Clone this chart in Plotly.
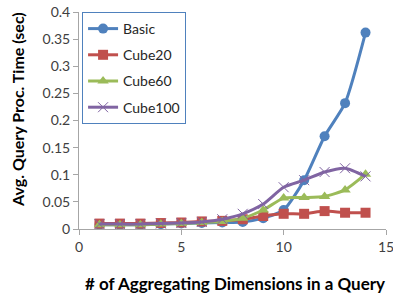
import plotly.graph_objects as go

x_vals = [1, 2, 3, 4, 5, 6, 7, 8, 9, 10, 11, 12, 13, 14]
basic = [0.008, 0.008, 0.008, 0.009, 0.010, 0.011, 0.012, 0.013, 0.020, 0.035, 0.090, 0.171, 0.232, 0.362]
cube20 = [0.010, 0.010, 0.010, 0.011, 0.012, 0.014, 0.015, 0.018, 0.024, 0.028, 0.028, 0.033, 0.030, 0.030]
cube60 = [0.008, 0.008, 0.008, 0.009, 0.010, 0.012, 0.014, 0.020, 0.035, 0.057, 0.058, 0.060, 0.072, 0.101]
cube100 = [0.009, 0.009, 0.009, 0.010, 0.011, 0.013, 0.018, 0.028, 0.046, 0.077, 0.090, 0.105, 0.112, 0.097]

names = ["Basic", "Cube20", "Cube60", "Cube100"]
series = [basic, cube20, cube60, cube100]
colors = ["#4F81BD", "#C0504D", "#9BBB59", "#8064A2"]
symbols = ["circle", "square", "triangle-up", "x-thin"]

x_title = "# of Aggregating Dimensions in a Query"
y_title = "Avg. Query Proc. Time (sec)"

fig = go.Figure()
for nm, ys, c, s in zip(names, series, colors, symbols):
    marker = dict(symbol=s, size=10, color=c)
    if s == "x-thin":
        marker = dict(symbol=s, size=10, color=c, line=dict(color=c, width=1))
    fig.add_trace(go.Scatter(
        x=x_vals, y=ys, name=nm, mode="lines+markers",
        line=dict(color=c, width=3, shape="spline", smoothing=0.6),
        marker=marker, legendgroup=nm,
    ))

fig.update_layout(
    width=393, height=297,
    margin=dict(l=79, r=7, t=12, b=68),
    plot_bgcolor="white", paper_bgcolor="white",
    font=dict(family="Lato, sans-serif", size=14, color="#404040"),
    showlegend=True,
    legend=dict(
        x=0.01, y=1.0, xanchor="left", yanchor="top",
        bordercolor="#4F81BD", borderwidth=1, bgcolor="white",
        font=dict(size=14, color="#262626"),
        tracegroupgap=5, traceorder="grouped", itemwidth=30,
    ),
    xaxis=dict(
        range=[0, 15], tickvals=[0, 5, 10, 15], showgrid=False, zeroline=False,
        showline=True, linecolor="#A6A6A6", linewidth=1, automargin=False,
        ticks="outside", ticklen=5, tickcolor="#A6A6A6", ticklabeloverflow="allow",
    ),
    yaxis=dict(
        range=[0, 0.4], tickvals=[0, 0.05, 0.1, 0.15, 0.2, 0.25, 0.3, 0.35, 0.4],
        ticktext=["0", "0.05", "0.1", "0.15", "0.2", "0.25", "0.3", "0.35", "0.4"],
        showgrid=False, zeroline=False, automargin=False, ticklabeloverflow="allow",
        showline=True, linecolor="#A6A6A6", linewidth=1,
        ticks="outside", ticklen=5, tickcolor="#A6A6A6",
    ),
    annotations=[
        dict(text="<b>" + x_title + "</b>", xref="paper", yref="paper",
             x=0.508, y=-0.253, xanchor="center", yanchor="middle", showarrow=False,
             font=dict(size=17, color="#000000")),
        dict(text="<b>" + y_title + "</b>", xref="paper", yref="paper",
             x=-0.199, y=0.553, xanchor="center", yanchor="middle", showarrow=False,
             textangle=-90, font=dict(size=16, color="#000000")),
    ],
)

fig.write_html("out.html", config={"displayModeBar": False},
               post_script="document.body.style.margin='0';")
